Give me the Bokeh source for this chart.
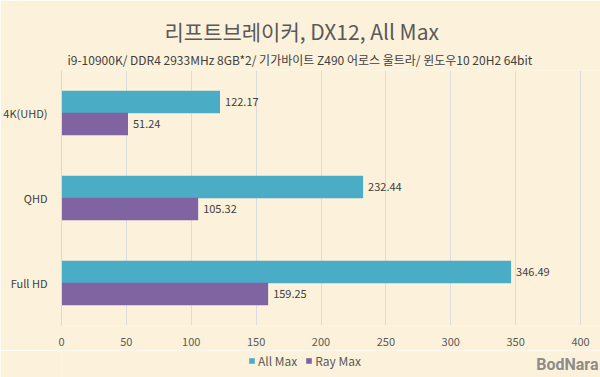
from bokeh.plotting import figure
from bokeh.layouts import column
from bokeh.models import FactorRange, ColumnDataSource, Title, Legend, LegendItem, Range1d, SingleIntervalTicker
from bokeh.transform import dodge
from bokeh.core.properties import value
from bokeh.embed import file_html
from bokeh.resources import INLINE

title_text = "리프트브레이커, DX12, All Max"
subtitle_text = "i9-10900K/ DDR4 2933MHz 8GB*2/ 기가바이트 Z490 어로스 울트라/ 윈도우10 20H2 64bit"
categories = ["Full HD", "QHD", "4K(UHD)"]
all_max = [346.49, 232.44, 122.17]
ray_max = [159.25, 105.32, 51.24]
series_names = ["All Max", "Ray Max"]
colors = ["#4BACC6", "#8064A2"]
watermark = "BodNara"

FONT = "Noto Sans CJK KR"
BG = "#FCF2DB"

src = ColumnDataSource(dict(
    cat=categories, all_max=all_max, ray_max=ray_max,
    all_lbl=[f"{v:.2f}" for v in all_max],
    ray_lbl=[f"{v:.2f}" for v in ray_max],
))

# frame spans 60..600 px; 0..400 occupies 60..580 px, the rest is empty margin
p = figure(width=600, height=350, y_range=FactorRange(*categories),
           x_range=Range1d(0, 400 * 540 / 520), output_backend="svg", toolbar_location=None,
           min_border_left=60, min_border_right=0, min_border_top=70, min_border_bottom=25)
p.background_fill_color = BG
p.border_fill_color = BG
p.outline_line_color = None

r1 = p.hbar(y=dodge("cat", 0.13, range=p.y_range), right="all_max", height=0.265,
            source=src, color=colors[0], line_color=None)
r2 = p.hbar(y=dodge("cat", -0.13, range=p.y_range), right="ray_max", height=0.265,
            source=src, color=colors[1], line_color=None)

for col, lbl, off in (("all_max", "all_lbl", 0.13), ("ray_max", "ray_lbl", -0.13)):
    p.text(x=col, y=dodge("cat", off, range=p.y_range), text=lbl, source=src,
           x_offset=5, text_baseline="middle", text_align="left",
           text_font=value(FONT), text_font_size="11px", text_color="#404040")

p.xaxis.ticker = SingleIntervalTicker(interval=50)
p.xaxis.axis_line_color = None
p.xaxis.major_tick_line_color = None
p.xaxis.minor_tick_line_color = None
p.xaxis.major_label_text_font = FONT
p.xaxis.major_label_text_font_size = "11px"
p.xaxis.major_label_text_color = "#595959"
p.xaxis.major_label_standoff = 6

p.yaxis.axis_line_color = "#D9D9D9"
p.yaxis.major_tick_line_color = None
p.yaxis.minor_tick_line_color = None
p.yaxis.major_label_text_font = FONT
p.yaxis.major_label_text_font_size = "11px"
p.yaxis.major_label_text_color = "#404040"
p.yaxis.major_label_standoff = 8

p.xgrid.grid_line_color = "#DCDCDC"
p.ygrid.grid_line_color = None

p.title.text = title_text
p.title.align = "left"
p.title.offset = 103
p.title.text_font = FONT
p.title.text_font_size = "21px"
p.title.text_font_style = "normal"
p.title.text_color = "#595959"
p.title.standoff = 0
p.add_layout(Title(text=subtitle_text, align="left", offset=6, text_font=FONT,
                   text_font_size="12px", text_font_style="normal", text_color="#404040",
                   standoff=6), "above")

# bottom strip: legend + watermark (frame aligned with the main plot: 60..600 px)
p2 = figure(width=600, height=27, x_range=Range1d(60, 600), y_range=Range1d(0, 27),
            output_backend="svg", toolbar_location=None, min_border=0)
p2.axis.visible = False
p2.grid.visible = False
p2.outline_line_color = None
p2.background_fill_color = BG
p2.border_fill_color = BG

l1 = p2.hbar(y=[-100], right=[1], height=1, color=colors[0], line_color=None)
l2 = p2.hbar(y=[-100], right=[1], height=1, color=colors[1], line_color=None)
legend = Legend(items=[LegendItem(label=series_names[0], renderers=[l1]),
                       LegendItem(label=series_names[1], renderers=[l2])],
                orientation="horizontal", location=(187, 8),
                background_fill_alpha=0, border_line_color=None,
                label_text_font=FONT, label_text_font_size="12px", label_text_color="#595959",
                glyph_width=7, glyph_height=7, spacing=8, padding=0, margin=0,
                label_standoff=3, label_height=14)
p2.add_layout(legend)

p2.text(x=[598], y=[13], text=[watermark], text_align="right", text_baseline="middle",
        text_font=value("Roboto"), text_font_size="16px", text_font_style="bold",
        text_color="#8C8C8C")

open("out.html", "w").write(file_html(column(p, p2, spacing=0), INLINE))
